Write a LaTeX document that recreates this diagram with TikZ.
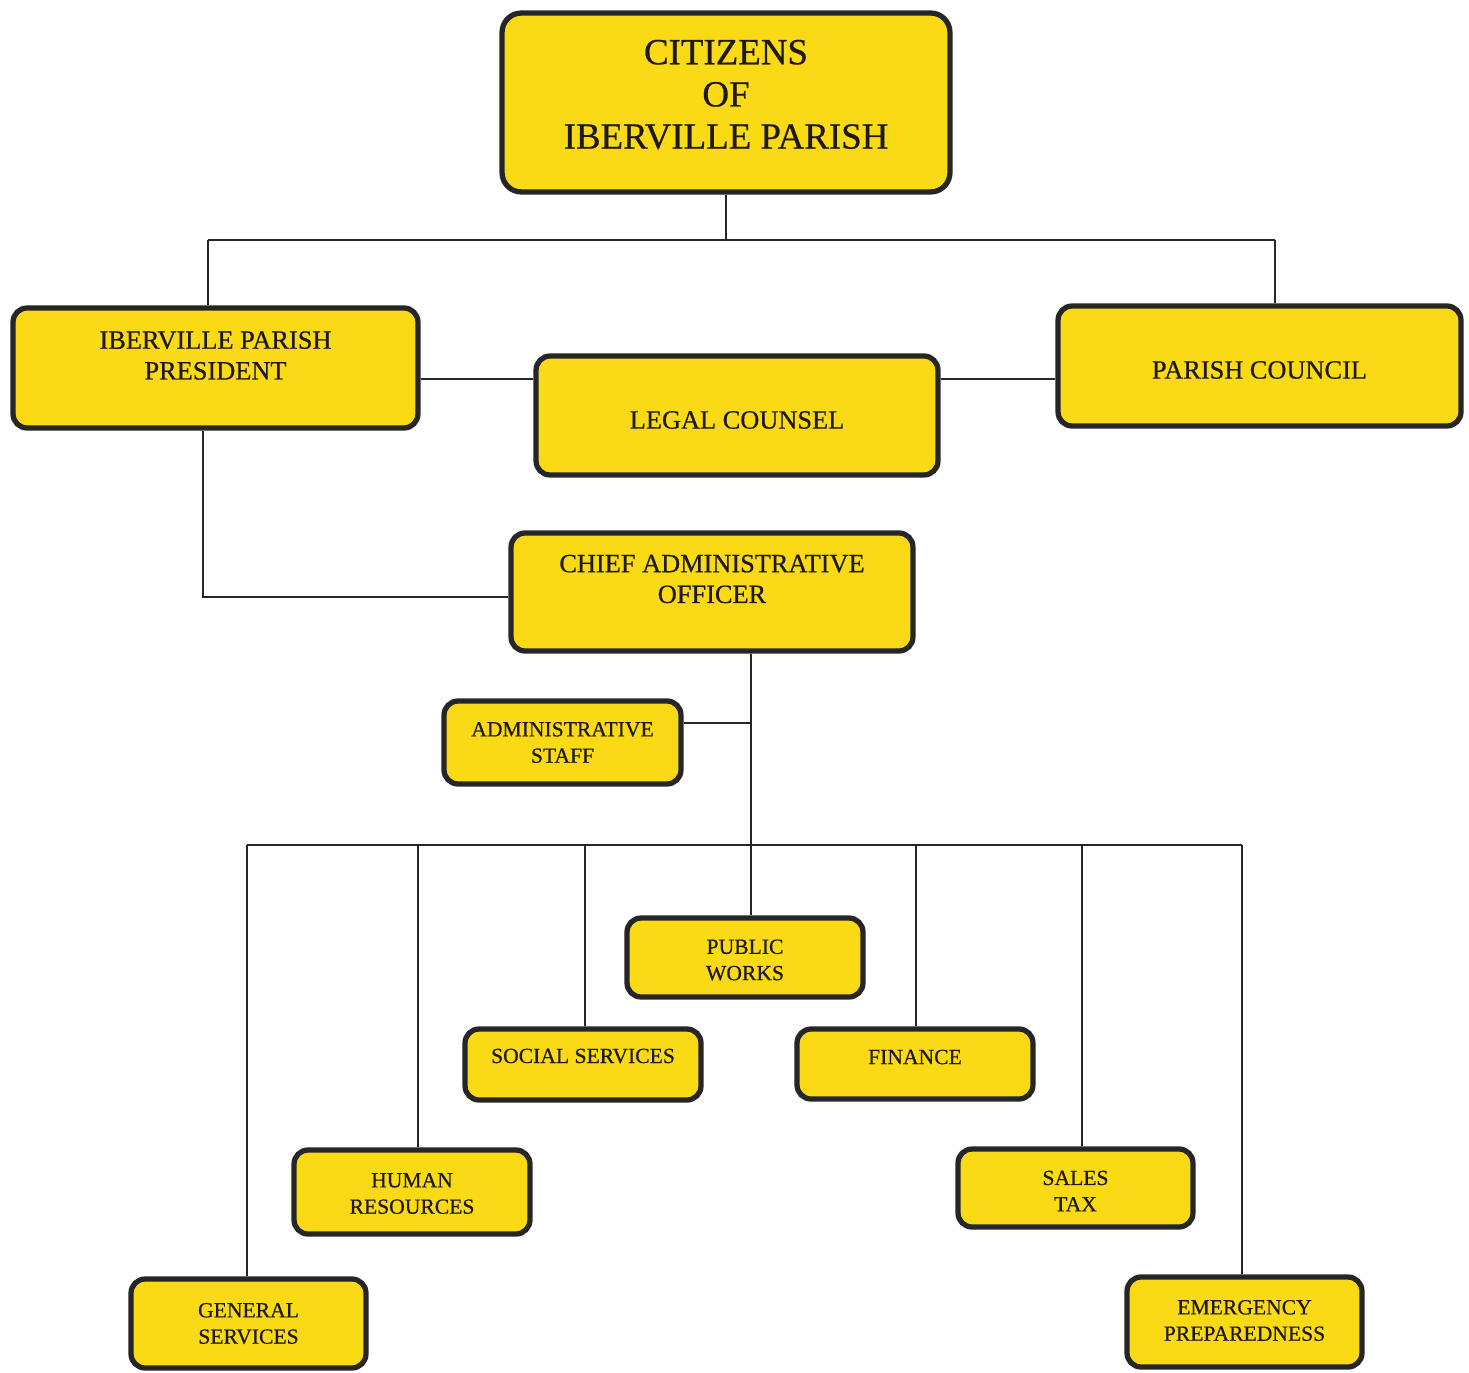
\documentclass[tikz,border=0pt]{standalone}
\usepackage{fontspec}
\setmainfont[FakeBold=0.6]{Liberation Serif}
\definecolor{boxy}{RGB}{250,218,20}
\definecolor{edge}{RGB}{38,38,38}
\definecolor{txt}{RGB}{30,25,20}
\begin{document}
\begin{tikzpicture}[x=0.02cm,y=-0.02cm,
  box/.style={draw=edge, line width=3pt, fill=boxy, rounded corners=8pt, inner sep=0pt},
  lbl/.style={align=center, inner sep=0pt, text=txt},
  big/.style={font=\fontsize{21}{24}\selectfont},
  mid/.style={font=\fontsize{15}{17.5}\selectfont},
  small/.style={font=\fontsize{12.3}{15}\selectfont},
  link/.style={draw=edge, line width=1.1pt}]
\useasboundingbox (0,0) rectangle (1469,1372);

% boxes
\node[box, rounded corners=11pt, minimum width=8.96cm, minimum height=3.58cm,
  label={[lbl,big,yshift=0.16cm]center:CITIZENS\\OF\\IBERVILLE PARISH}] (cit) at (726,102.5) {};
\node[box, minimum width=8.10cm, minimum height=2.40cm,
  label={[lbl,mid,yshift=0.25cm]center:IBERVILLE PARISH\\PRESIDENT}] (pres) at (215.5,368) {};
\node[box, minimum width=8.04cm, minimum height=2.38cm,
  label={[lbl,mid,yshift=-0.09cm]center:LEGAL COUNSEL}] (legal) at (737,415.5) {};
\node[box, minimum width=8.06cm, minimum height=2.40cm,
  label={[lbl,mid,yshift=-0.08cm]center:PARISH COUNCIL}] (council) at (1259.5,366) {};
\node[box, minimum width=8.04cm, minimum height=2.36cm,
  label={[lbl,mid,yshift=0.26cm]center:CHIEF ADMINISTRATIVE\\OFFICER}] (cao) at (712,592) {};
\node[box, minimum width=4.74cm, minimum height=1.66cm,
  label={[lbl,small]center:ADMINISTRATIVE\\STAFF}] (staff) at (562.5,742.5) {};
\node[box, minimum width=4.72cm, minimum height=1.58cm,
  label={[lbl,small,yshift=-0.05cm]center:PUBLIC\\WORKS}] (pw) at (745,957.5) {};
\node[box, minimum width=4.72cm, minimum height=1.42cm,
  label={[lbl,small,yshift=0.17cm]center:SOCIAL SERVICES}] (social) at (583,1064.5) {};
\node[box, minimum width=4.72cm, minimum height=1.40cm,
  label={[lbl,small,yshift=0.14cm]center:FINANCE}] (finance) at (915,1064) {};
\node[box, minimum width=4.72cm, minimum height=1.68cm,
  label={[lbl,small,yshift=-0.03cm]center:HUMAN\\RESOURCES}] (hr) at (412,1192) {};
\node[box, minimum width=4.70cm, minimum height=1.56cm,
  label={[lbl,small,yshift=-0.06cm]center:SALES\\TAX}] (sales) at (1075.5,1188) {};
\node[box, minimum width=4.70cm, minimum height=1.78cm,
  label={[lbl,small]center:GENERAL\\SERVICES}] (gen) at (248.5,1323.5) {};
\node[box, minimum width=4.70cm, minimum height=1.80cm,
  label={[lbl,small,yshift=0.03cm]center:EMERGENCY\\PREPAREDNESS}] (emer) at (1244.5,1322) {};

% junction coordinates
\coordinate (top) at (726,240);
\coordinate (pj) at (208,240);
\coordinate (cj) at (1275,240);
\coordinate (pl) at (0,379);
\coordinate (pc) at (203,597);
\coordinate (sj) at (751,723);
\coordinate (bus) at (751,845);
\coordinate (b1) at (247,845);
\coordinate (b2) at (418,845);
\coordinate (b3) at (585,845);
\coordinate (b5) at (916,845);
\coordinate (b6) at (1082,845);
\coordinate (b7) at (1242,845);

% connectors
\draw[link] (cit) -- (top);
\draw[link] (pj) -- (cj);
\draw[link] (pj) -- (pj |- pres.north);
\draw[link] (cj) -- (cj |- council.north);
\draw[link] (pres.east |- pl) -- (legal.west |- pl);
\draw[link] (legal.east |- pl) -- (council.west |- pl);
\draw[link] (pres.south -| pc) -- (pc) -- (cao.west |- pc);
\draw[link] (cao.south -| bus) -- (bus) -- (pw.north -| bus);
\draw[link] (staff.east |- sj) -- (sj);
\draw[link] (b1) -- (b7);
\draw[link] (b1) -- (b1 |- gen.north);
\draw[link] (b2) -- (b2 |- hr.north);
\draw[link] (b3) -- (b3 |- social.north);
\draw[link] (b5) -- (b5 |- finance.north);
\draw[link] (b6) -- (b6 |- sales.north);
\draw[link] (b7) -- (b7 |- emer.north);
\end{tikzpicture}
\end{document}
